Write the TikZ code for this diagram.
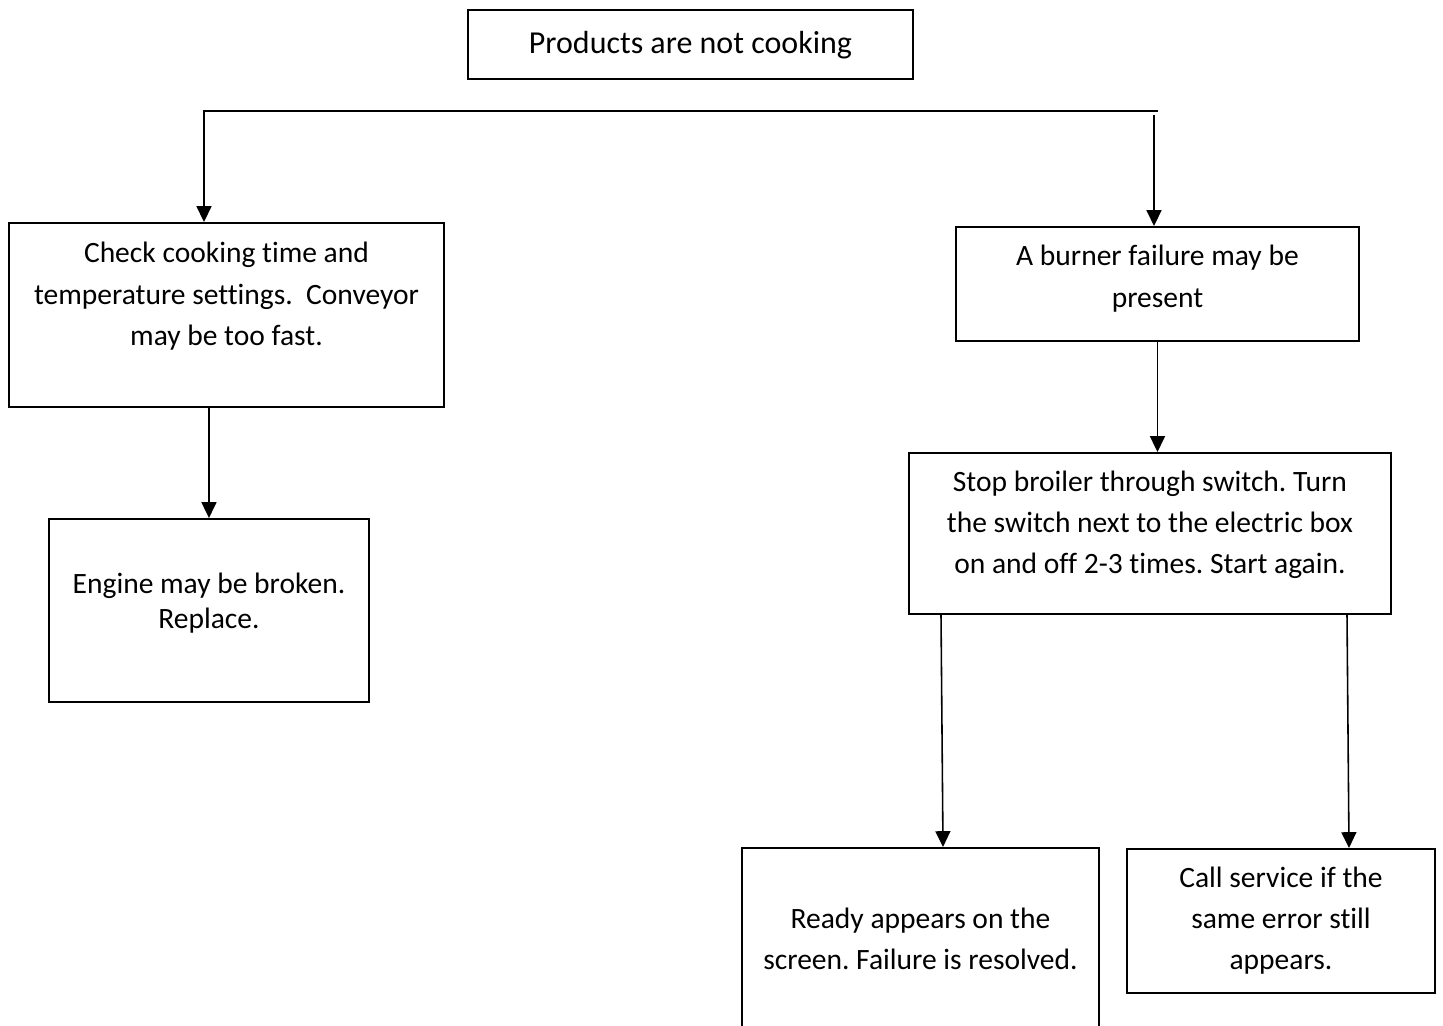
\documentclass[tikz,border=0pt]{standalone}
\usepackage{fontspec}
\setmainfont{Carlito}[Ligatures=NoCommon]
\usetikzlibrary{arrows.meta,calc}
\frenchspacing

\newlength{\px}\setlength{\px}{0.02cm}
% box text: width, height, gap above first line, lines
\newcommand{\boxtext}[4]{\parbox[c][#2\px][t]{#1\px}{\centering\vspace*{#3\px}\strut #4}}

\tikzset{
    box/.style={draw, line width=1.1pt, inner sep=0pt, anchor=north west,
        font=\fontsize{16.8}{23.6}\selectfont},
    tightbox/.style={box, font=\fontsize{16.8}{19.9}\selectfont},
    titlebox/.style={box, font=\fontsize{18.2}{23.6}\selectfont},
    link/.style={line width=0.9pt},
    >={Triangle[width=8.5pt,length=9pt]}
}

\begin{document}
\begin{tikzpicture}[x=0.02cm, y=-0.02cm]
    \clip (0,0) rectangle (1443,1025);

    % top problem
    \node[titlebox] (problem) at (467,9) {\boxtext{445}{69}{15}{Products are not cooking}};

    % left branch
    \node[box] (check) at (8,222) {\boxtext{435}{184}{11}{Check cooking time and\\temperature settings.~ Conveyor\\may be too fast.}};
    \node[tightbox] (engine) at (48,518) {\boxtext{320}{183}{50.5}{Engine may be broken.\\Replace.}};

    % right branch
    \node[box] (burner) at (955,226) {\boxtext{403}{114}{10}{A burner failure may be\\present}};
    \node[box] (stop) at (908,452) {\boxtext{482}{161}{9}{Stop broiler through switch. Turn\\the switch next to the electric box\\on and off 2-3 times. Start again.}};
    \node[box] (ready) at (741,847) {\boxtext{357}{200}{51}{Ready appears on the\\screen. Failure is resolved.}};
    \node[box] (call) at (1126,848) {\boxtext{308}{144}{9}{Call service if the\\same error still\\appears.}};

    % connectors
    \coordinate (busL) at (204,111);
    \coordinate (busR) at (1158,111);
    \coordinate (dropR) at (1154,115);
    \draw[link, ->] (busR) -- (busL) -- (busL |- check.north);
    \draw[link, ->] (dropR) -- (dropR |- burner.north);
    \draw[link, ->] (engine.north |- check.south) -- (engine.north);
    \draw[link, ->] (burner.south) -- (burner.south |- stop.north);
    \draw[link, ->] ($(stop.south west)+(33,0)$) -- ($(ready.north west)+(202,0)$);
    \draw[link, ->] ($(stop.south west)+(439,0)$) -- ($(call.north west)+(223,0)$);
\end{tikzpicture}
\end{document}
